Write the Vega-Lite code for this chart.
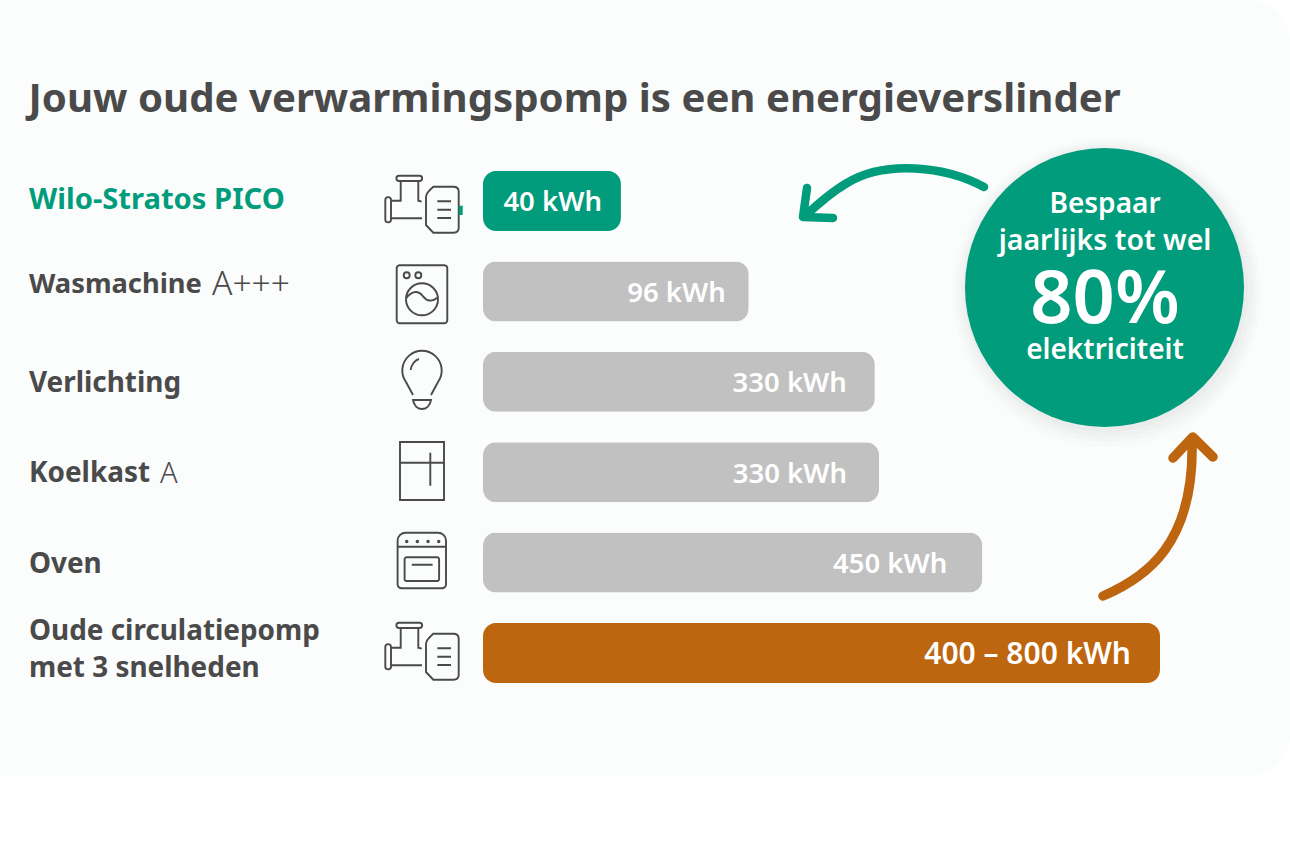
{
"$schema":"https://vega.github.io/schema/vega-lite/v6.json",
"width":1290,"height":860,"padding":0,
"autosize":{"type":"fit","contains":"padding"},
"background":"#ffffff",
"config":{"view":{"stroke":null},"axis":{"disable":true},"text":{"font":"Noto Sans"}},
"datasets":{"rijen":[
{"naam":"Wilo-Stratos PICO","label":"40 kWh","balk":163,"soort":"nieuw"},
{"naam":"Wasmachine","klasse":"A+++","label":"96 kWh","balk":314,"soort":"overig"},
{"naam":"Verlichting","label":"330 kWh","balk":463,"soort":"overig"},
{"naam":"Koelkast","klasse":"A","label":"330 kWh","balk":468,"soort":"overig"},
{"naam":"Oven","label":"450 kWh","balk":590,"soort":"overig"},
{"naam":"Oude circulatiepomp\nmet 3 snelheden","label":"400 – 800 kWh","balk":800,"soort":"oud"}
]},
"resolve":{"scale":{"x":"independent","y":"independent"}},
"layer":[
{"data":{"values":[{"a":1}]},
 "layer":[
 {"mark":{"type":"rect","fill":"#fbfcfc","cornerRadiusTopRight":42,"cornerRadiusBottomRight":42},"encoding":{"x":{"datum":0,"scale":{"domain":[0,1290],"nice":false,"zero":false}},"x2":{"datum":1290},"y":{"datum":0,"scale":{"domain":[0,860],"reverse":true,"nice":false,"zero":false}},"y2":{"datum":776}}},
 {"mark":{"type":"text","text":"Jouw oude verwarmingspomp is een energieverslinder","align":"left","baseline":"alphabetic","fontSize":40.2,"fontWeight":"bold","fill":"#4a4a4a"},"encoding":{"x":{"datum":28.5},"y":{"datum":112}}},
 {"mark":{"type":"point","shape":"M-23,-28.3 H-2.5 A2.6,2.6 0 0 1 -2.5,-23 H-23 A2.6,2.6 0 0 1 -23,-28.3 Z M-21.3,-23 V-3.3 H-31 M-3.7,-23 V-3.3 L-0.3,-2.3 M-36.7,-4 A2.8,2.8 0 0 1 -31,-4 V15.5 A2.8,2.8 0 0 1 -36.7,15.5 Z M-31,14.3 H0 M11.3,-17.3 H31.3 Q36.7,-17.3 36.7,-12.3 V24 Q36.7,28.7 31.3,28.7 H11.3 L4,21 V-7.3 Q4,-11 11.3,-17.3 Z M15.3,-2.7 H29 M15.3,5.7 H29 M15.3,14 H29","size":4,"filled":false,"stroke":"#4a4a4a","strokeWidth":1.9,"opacity":1},"encoding":{"x":{"datum":422},"y":{"datum":204}}},
 {"mark":{"type":"point","shape":"M36.7,1.7 H40.7 V11 H36.7 Z","size":4,"filled":true,"fill":"#009c7b","opacity":1},"encoding":{"x":{"datum":422},"y":{"datum":204}}},
 {"mark":{"type":"point","shape":"M-23,-29 H23 A3,3 0 0 1 25.3,-26 V26 A3,3 0 0 1 22,29 H-22 A3,3 0 0 1 -25.3,26 V-26 A3,3 0 0 1 -23,-29 Z M-12.3,-19 A3,3 0 1 1 -18.3,-19 A3,3 0 1 1 -12.3,-19 Z M-0.7,-19 A3,3 0 1 1 -6.7,-19 A3,3 0 1 1 -0.7,-19 Z M16,5 A16,16 0 1 1 -16,5 A16,16 0 1 1 16,5 Z M-16,4 C-8,-6 -2,-2 1,2 C5,7 10,8 16,3","size":4,"filled":false,"stroke":"#4a4a4a","strokeWidth":1.9,"opacity":1},"encoding":{"x":{"datum":422},"y":{"datum":294.3}}},
 {"mark":{"type":"point","shape":"M-9,15 L-16,2 A19.7,19.7 0 1 1 16,2 L9,15 M-9,20 H9 C8,26 4,29 0,29 C-4,29 -8,26 -9,20 Z M-11.3,-10 C-11,-15 -7,-20 -3,-21","size":4,"filled":false,"stroke":"#4a4a4a","strokeWidth":1.9,"opacity":1},"encoding":{"x":{"datum":422},"y":{"datum":380}}},
 {"mark":{"type":"point","shape":"M-22,-29 H22 V29 H-22 Z M-22,-8.3 H22 M8.3,-18.3 V14.7","size":4,"filled":false,"stroke":"#4a4a4a","strokeWidth":1.9,"opacity":1},"encoding":{"x":{"datum":422},"y":{"datum":471}}},
 {"mark":{"type":"point","shape":"M-16,-27.8 H16 A8,8 0 0 1 24.2,-20 V24 A4,4 0 0 1 20,27.8 H-20 A4,4 0 0 1 -24.2,24 V-20 A8,8 0 0 1 -16,-27.8 Z M-24.2,-13.8 H24.2 M-17.2,-1 A2,2 0 0 1 -15,-3.2 H15 A2,2 0 0 1 17.3,-1 V18 A2,2 0 0 1 15,20.5 H-15 A2,2 0 0 1 -17.2,18 Z M-10,4.2 H10.8 M-15,-19.8 A0.8,0.8 0 1 1 -15.1,-19.8 Z M-4.4,-19.8 A0.8,0.8 0 1 1 -4.5,-19.8 Z M6.3,-19.8 A0.8,0.8 0 1 1 6.2,-19.8 Z M17,-19.8 A0.8,0.8 0 1 1 16.9,-19.8 Z","size":4,"filled":false,"stroke":"#4a4a4a","strokeWidth":1.9,"opacity":1},"encoding":{"x":{"datum":421.8},"y":{"datum":560.5}}},
 {"mark":{"type":"point","shape":"M-23,-28.3 H-2.5 A2.6,2.6 0 0 1 -2.5,-23 H-23 A2.6,2.6 0 0 1 -23,-28.3 Z M-21.3,-23 V-3.3 H-31 M-3.7,-23 V-3.3 L-0.3,-2.3 M-36.7,-4 A2.8,2.8 0 0 1 -31,-4 V15.5 A2.8,2.8 0 0 1 -36.7,15.5 Z M-31,14.3 H0 M11.3,-17.3 H31.3 Q36.7,-17.3 36.7,-12.3 V24 Q36.7,28.7 31.3,28.7 H11.3 L4,21 V-7.3 Q4,-11 11.3,-17.3 Z M15.3,-2.7 H29 M15.3,5.7 H29 M15.3,14 H29","size":4,"filled":false,"stroke":"#4a4a4a","strokeWidth":1.9,"opacity":1},"encoding":{"x":{"datum":422},"y":{"datum":651}}},
 {"mark":{"type":"point","shape":"circle","size":95000,"filled":true,"fill":"#000000","opacity":0.012},"encoding":{"x":{"datum":1107},"y":{"datum":293}}},
 {"mark":{"type":"point","shape":"circle","size":90000,"filled":true,"fill":"#000000","opacity":0.014},"encoding":{"x":{"datum":1107},"y":{"datum":292}}},
 {"mark":{"type":"point","shape":"circle","size":85500,"filled":true,"fill":"#000000","opacity":0.016},"encoding":{"x":{"datum":1107},"y":{"datum":291}}},
 {"mark":{"type":"point","shape":"circle","size":81000,"filled":true,"fill":"#000000","opacity":0.02},"encoding":{"x":{"datum":1106},"y":{"datum":290}}},
 {"mark":{"type":"point","shape":"circle","size":77841,"filled":true,"fill":"#009c7b","opacity":1},"encoding":{"x":{"datum":1104.5},"y":{"datum":287.5}}},
 {"mark":{"type":"point","shape":"M84,-3 C45,-24 -15,-30 -53,-7 C-65,0 -80,12 -95,26 M-93,-2 L-97,27 L-67,28","size":4,"filled":false,"stroke":"#009c7b","strokeWidth":8.5,"strokeCap":"round","strokeJoin":"round","opacity":1},"encoding":{"x":{"datum":900},"y":{"datum":190}}},
 {"mark":{"type":"point","shape":"M-47,76 C-5,58 45,25 42,-80 M23,-62 L42.7,-83 L63,-63","size":4,"filled":false,"stroke":"#bd650f","strokeWidth":9.5,"strokeCap":"round","strokeJoin":"round","opacity":1},"encoding":{"x":{"datum":1150},"y":{"datum":520}}},
 {"mark":{"type":"text","text":"Bespaar","align":"center","baseline":"middle","fontSize":28,"fontWeight":600,"fill":"#ffffff"},"encoding":{"x":{"datum":1105},"y":{"datum":205}}},
 {"mark":{"type":"text","text":"jaarlijks tot wel","align":"center","baseline":"middle","fontSize":28.5,"fontWeight":600,"fill":"#ffffff"},"encoding":{"x":{"datum":1105},"y":{"datum":241}}},
 {"mark":{"type":"text","text":"80%","align":"center","baseline":"middle","fontSize":74,"fontWeight":600,"fill":"#ffffff"},"encoding":{"x":{"datum":1105},"y":{"datum":301}}},
 {"mark":{"type":"text","text":"elektriciteit","align":"center","baseline":"middle","fontSize":28,"fontWeight":600,"fill":"#ffffff"},"encoding":{"x":{"datum":1105},"y":{"datum":351}}}
 ]},
{"data":{"name":"rijen"},
 "encoding":{
  "y":{"field":"naam","type":"nominal","axis":null,"sort":null,"scale":{"domain":["Wilo-Stratos PICO","Wasmachine","Verlichting","Koelkast","Oven","Oude circulatiepomp\nmet 3 snelheden"],"range":[155.8,698.2],"paddingInner":0.336,"paddingOuter":0.168}},
  "x":{"field":"balk","type":"quantitative","scale":{"domain":[0,800],"range":[483,1160],"nice":false,"zero":true}}
 },
 "layer":[
 {"mark":{"type":"bar","cornerRadius":13},"encoding":{"color":{"field":"soort","type":"nominal","legend":null,"scale":{"domain":["nieuw","overig","oud"],"range":["#009c7b","#c1c1c1","#bd650f"]}}}},
 {"transform":[{"filter":"datum.balk==163"}],"mark":{"type":"text","align":"right","baseline":"middle","dx":-19,"dy":2,"fontSize":27.5,"fontWeight":600,"fill":"#ffffff"},"encoding":{"text":{"field":"label"}}},
 {"transform":[{"filter":"datum.balk==314"}],"mark":{"type":"text","align":"right","baseline":"middle","dx":-23,"dy":2.5,"fontSize":27.5,"fontWeight":600,"fill":"#ffffff"},"encoding":{"text":{"field":"label"}}},
 {"transform":[{"filter":"datum.balk==463"}],"mark":{"type":"text","align":"right","baseline":"middle","dx":-28,"dy":2.5,"fontSize":27.5,"fontWeight":600,"fill":"#ffffff"},"encoding":{"text":{"field":"label"}}},
 {"transform":[{"filter":"datum.balk==468"}],"mark":{"type":"text","align":"right","baseline":"middle","dx":-32,"dy":2.5,"fontSize":27.5,"fontWeight":600,"fill":"#ffffff"},"encoding":{"text":{"field":"label"}}},
 {"transform":[{"filter":"datum.balk==590"}],"mark":{"type":"text","align":"right","baseline":"middle","dx":-35,"dy":2,"fontSize":27.5,"fontWeight":600,"fill":"#ffffff"},"encoding":{"text":{"field":"label"}}},
 {"transform":[{"filter":"datum.balk==800"}],"mark":{"type":"text","align":"right","baseline":"middle","dx":-29,"dy":1.5,"fontSize":30,"fontWeight":600,"fill":"#ffffff"},"encoding":{"text":{"field":"label"}}},
 {"transform":[{"filter":"datum.soort=='nieuw'"}],"mark":{"type":"text","align":"left","baseline":"middle","dy":-1,"fontSize":29.2,"fontWeight":"bold","fill":"#009c7b"},"encoding":{"x":{"datum":-536.5,"scale":{"domain":[0,800],"range":[483,1160],"nice":false,"zero":true}},"text":{"field":"naam"}}},
 {"transform":[{"filter":"datum.naam=='Wasmachine'"}],"mark":{"type":"text","align":"left","baseline":"middle","dy":-6,"fontSize":27.3,"fontWeight":"bold","fill":"#4a4a4a"},"encoding":{"x":{"datum":-536.5,"scale":{"domain":[0,800],"range":[483,1160],"nice":false,"zero":true}},"text":{"field":"naam"}}},
 {"transform":[{"filter":"datum.naam=='Verlichting'||datum.naam=='Koelkast'||datum.naam=='Oven'"}],"mark":{"type":"text","align":"left","baseline":"middle","dy":2,"fontSize":27.9,"fontWeight":"bold","fill":"#4a4a4a"},"encoding":{"x":{"datum":-536.5,"scale":{"domain":[0,800],"range":[483,1160],"nice":false,"zero":true}},"text":{"field":"naam"}}},
 {"transform":[{"filter":"datum.soort=='oud'"}],"mark":{"type":"text","align":"left","baseline":"middle","dy":-21,"lineBreak":"\n","lineHeight":37,"fontSize":27.9,"fontWeight":"bold","fill":"#4a4a4a"},"encoding":{"x":{"datum":-536.5,"scale":{"domain":[0,800],"range":[483,1160],"nice":false,"zero":true}},"text":{"field":"naam"}}},
 {"transform":[{"filter":"datum.naam=='Wasmachine'"}],"mark":{"type":"text","align":"left","baseline":"middle","dy":-6,"fontSize":33.5,"fontWeight":300,"fill":"#4a4a4a"},"encoding":{"x":{"datum":-320.2,"scale":{"domain":[0,800],"range":[483,1160],"nice":false,"zero":true}},"text":{"field":"klasse"}}},
 {"transform":[{"filter":"datum.naam=='Koelkast'"}],"mark":{"type":"text","align":"left","baseline":"middle","dy":2,"fontSize":29,"fontWeight":300,"fill":"#4a4a4a"},"encoding":{"x":{"datum":-381.7,"scale":{"domain":[0,800],"range":[483,1160],"nice":false,"zero":true}},"text":{"field":"klasse"}}}
 ]}
]
}
